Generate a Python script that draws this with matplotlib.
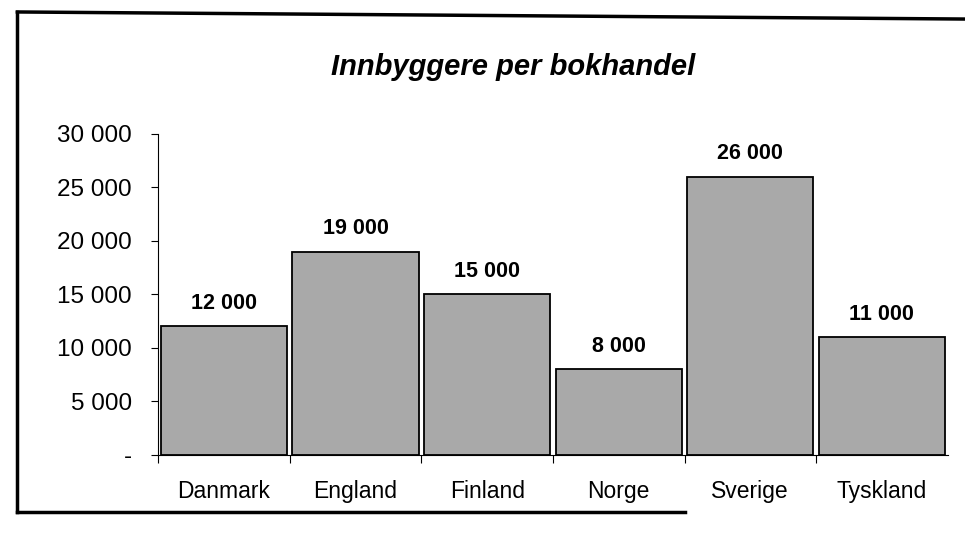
import matplotlib
matplotlib.use("Agg")
import matplotlib.pyplot as plt
from matplotlib.lines import Line2D

countries = ["Danmark", "England", "Finland", "Norge", "Sverige", "Tyskland"]
values = [12000, 19000, 15000, 8000, 26000, 11000]
value_labels = ["12 000", "19 000", "15 000", "8 000", "26 000", "11 000"]
yticks = [0, 5000, 10000, 15000, 20000, 25000, 30000]
ytick_labels = ["-", "5 000", "10 000", "15 000", "20 000", "25 000", "30 000"]
title = "Innbyggere per bokhandel"

plt.rcParams['font.family'] = ['Liberation Sans', 'DejaVu Sans']

fig = plt.figure(figsize=(9.65, 5.44), dpi=100)
ax = fig.add_axes([0.164, 0.164, 0.818, 0.590])

x = list(range(len(countries)))
ax.bar(x, values, width=0.96, color="#a9a9a9", edgecolor="black", linewidth=1.3)

for xi, v, lab in zip(x, values, value_labels):
    ax.annotate(lab, (xi, v), xytext=(0, 9), textcoords="offset points",
                ha="center", va="bottom", fontsize=15.5, fontweight="bold")

ax.set_xlim(-0.5, len(countries) - 0.5)
ax.set_ylim(0, 30000)
ax.set_yticks(yticks)
ax.set_yticklabels(ytick_labels, fontsize=17.5)
ax.set_xticks(x)
ax.set_xticklabels(countries, fontsize=16.5)
ax.tick_params(axis="x", length=0, pad=18)
ax.set_xticks([i + 0.5 for i in x[:-1]] + [-0.5], minor=True)
ax.tick_params(axis="x", which="minor", length=6, width=0.8, direction="out")
ax.tick_params(axis="y", length=5, width=0.8, direction="out", pad=14)

for s in ["top", "right"]:
    ax.spines[s].set_visible(False)
ax.spines["left"].set_linewidth(0.8)
ax.spines["bottom"].set_linewidth(0.8)

fig.text(0.532, 0.877, title, ha="center", va="center", fontsize=21,
         fontweight="bold", fontstyle="italic")

# Outer frame
lw = 2.5
fig.add_artist(Line2D([0.018, 1.0], [0.978, 0.965], transform=fig.transFigure, color="black", lw=lw))
fig.add_artist(Line2D([0.018, 0.018], [0.978, 0.058], transform=fig.transFigure, color="black", lw=lw))
fig.add_artist(Line2D([0.018, 0.71], [0.058, 0.058], transform=fig.transFigure, color="black", lw=lw))

fig.savefig("out.png", dpi=100)
